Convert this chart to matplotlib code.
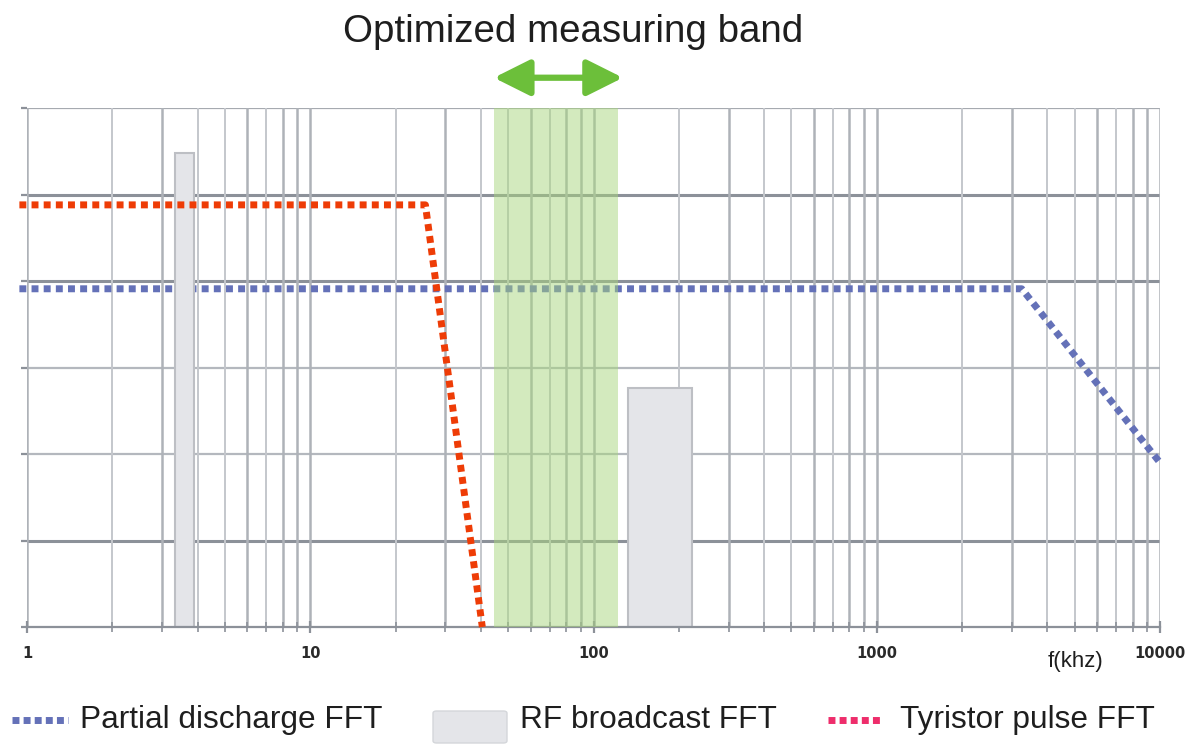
import matplotlib.pyplot as plt
import matplotlib.patches as mpatches
from matplotlib.lines import Line2D

plt.rcParams['font.family'] = ['Liberation Sans', 'DejaVu Sans']

# data
pd_x = [0.94, 3250, 10000]
pd_y = [3.91, 3.91, 1.9]
ty_x = [0.94, 25.5, 40.5]
ty_y = [4.88, 4.88, 0.0]
rf_left = [3.33, 132]
rf_right = [3.89, 223]
rf_top = [5.48, 2.76]
band_lo, band_hi = 44.5, 122
xticks = [1, 10, 100, 1000, 10000]
xticklabels = ['1', '10', '100', '1000', '10000']

blue = '#6471B8'
orange = '#EE3C06'
pink = '#EE2D6B'
green = '#6CBF3A'

fig = plt.figure(figsize=(11.88, 7.45), dpi=100)
ax = fig.add_axes([27 / 1188, 1 - 627 / 745, (1160 - 27) / 1188, (627 - 108) / 745])
ax.set_xscale('log')
ax.set_xlim(1, 10000)
ax.set_ylim(0, 6)

# grid
hstyle = [(None, 0), ('#8C9199', 2.2), ('#B4B8BE', 1.6), ('#B4B8BE', 1.6),
          ('#8C9199', 2.2), ('#8C9199', 2.2), ('#A6AAB0', 1.6)]
for yv, (c, w) in enumerate(hstyle):
    if c:
        ax.axhline(yv, color=c, lw=w, zorder=0.5)
for dec in [1, 10, 100, 1000]:
    for m in range(1, 10):
        xv = dec * m
        ax.axvline(xv, color='#AEB2B8' if m in (1, 3, 6, 8, 9) else '#C4C7CC',
                   lw=1.8 if m in (1, 3, 6, 8, 9) else 1.4, zorder=0.5)
ax.axvline(10000, color='#AEB2B8', lw=1.8, zorder=0.5)

for s in ['top', 'right', 'left']:
    ax.spines[s].set_visible(False)
ax.spines['bottom'].set_color('#8C9199')
ax.spines['bottom'].set_linewidth(1.6)

ax.set_xticks(xticks)
ax.set_xticklabels(xticklabels, fontsize=10.5, fontweight='bold', color='#2A2A2A',
                   family='DejaVu Sans')
ax.tick_params(axis='x', which='major', direction='inout', length=9, width=1.6,
               color='#8C9199', pad=9.5)
ax.tick_params(axis='x', which='minor', direction='inout', length=7, width=1.2,
               color='#8C9199')
ax.set_yticks(range(7))
ax.set_yticklabels([])
ax.tick_params(axis='y', length=4, width=1.6, color='#8C9199')
ax.xaxis.set_minor_formatter(plt.NullFormatter())

# partial discharge
ax.plot(pd_x, pd_y, color=blue, lw=5, dashes=(1, 0.75), dash_capstyle='butt',
        zorder=1, clip_on=False)
# RF broadcast bars
for l, r, t in zip(rf_left, rf_right, rf_top):
    ax.bar(l, t, width=r - l, align='edge', color='#E4E5E9', edgecolor='#BDBFC4',
           lw=1.5, zorder=2)
# tyristor pulse
ax.plot(ty_x, ty_y, color=orange, lw=5, dashes=(1, 0.75), dash_capstyle='butt',
        zorder=3, clip_on=False)
# optimized band
ax.axvspan(band_lo, band_hi, color='#A8D67E', alpha=0.5, lw=0, zorder=4)

ax.annotate('', xy=(band_lo, 6.35), xytext=(band_hi + 5, 6.35), xycoords='data',
            arrowprops=dict(arrowstyle='<|-|>,head_length=2.2,head_width=1.1',
                            color=green, lw=4.5, shrinkA=0, shrinkB=0),
            annotation_clip=False)

fig.text(573 / 1188, 1 - 32 / 745, 'Optimized measuring band', fontsize=27.7,
         ha='center', va='center', color='#1E1E1E')
fig.text(1075 / 1188, 1 - 662 / 745, 'f(khz)', fontsize=16, ha='center',
         va='center', color='#1E1E1E')

# legend
ly = 1 - 720 / 745
fig.add_artist(Line2D([12 / 1188, 68 / 1188], [ly, ly], color=blue, lw=5,
                      dashes=(1, 0.6), dash_capstyle='butt'))
fig.text(80 / 1188, ly, 'Partial discharge FFT', fontsize=22.8, va='center',
         color='#1E1E1E')
fig.add_artist(mpatches.FancyBboxPatch((433 / 1188, 1 - 743 / 745), 74 / 1188, 32 / 745,
                                       boxstyle='round,pad=0,rounding_size=0.003',
                                       transform=fig.transFigure, facecolor='#E4E5E9',
                                       edgecolor='#D4D6DA', lw=1))
fig.text(520 / 1188, ly, 'RF broadcast FFT', fontsize=22.8, va='center',
         color='#1E1E1E')
fig.add_artist(Line2D([828 / 1188, 882 / 1188], [ly, ly], color=pink, lw=5,
                      dashes=(1, 0.6), dash_capstyle='butt'))
fig.text(900 / 1188, ly, 'Tyristor pulse FFT', fontsize=22.8, va='center',
         color='#1E1E1E')

fig.savefig('out.png', dpi=100)
